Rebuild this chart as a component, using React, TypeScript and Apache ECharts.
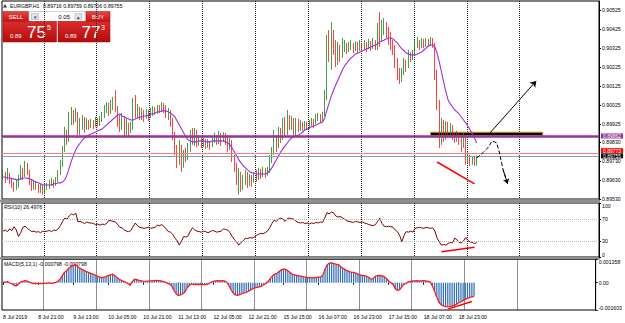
import React, { useEffect, useRef } from 'react';
import * as echarts from 'echarts';

// ---------- time axis ----------
const timeLabels = ['8 Jul 2019', '8 Jul 21:00', '9 Jul 13:00', '10 Jul 05:00', '10 Jul 21:00', '11 Jul 13:00', '12 Jul 05:00', '12 Jul 21:00', '15 Jul 15:00', '16 Jul 07:00', '16 Jul 23:00', '17 Jul 15:00', '18 Jul 07:00', '18 Jul 23:00'];
const labelEvery = 16;
const slotCount = 271;
const firstDayLine = 19;
const barsPerDay = 24;
const dayLineCount = 10;

// ---------- prices (in 0.00001 points) ----------
const firstOpen = 89641;
const closes = [89652,89641,89662,89631,89604,89583,89599,89641,89683,89657,
 89710,89673,89620,89589,89615,89599,89578,89594,89573,89589,
 89599,89610,89620,89604,89625,89662,89710,89789,89867,89841,
 89946,89989,89957,89983,89878,89920,89946,89904,89925,89915,
 89936,89920,89941,89931,89952,89967,89999,90020,89989,90020,
 90041,89999,89946,89904,89957,89883,89920,89894,89910,90025,
 89989,90010,89973,89989,89962,89983,89967,89989,89999,89989,
 90010,90004,90020,90010,89973,89989,89936,89867,89789,89736,
 89799,89710,89762,89746,89799,89867,89841,89878,89831,89841,
 89820,89836,89815,89825,89810,89841,89857,89831,89862,89841,
 89867,89852,89799,89831,89746,89694,89631,89657,89604,89631,
 89652,89615,89641,89625,89652,89641,89673,89657,89683,89662,
 89678,89736,89789,89841,89815,89883,89852,89920,89883,89957,
 89920,89946,89904,89936,89915,89931,89910,89925,89915,89931,
 89941,89925,89957,89967,89952,89978,90078,90341,90289,90394,
 90341,90262,90315,90289,90325,90341,90315,90331,90346,90325,
 90336,90320,90341,90325,90346,90331,90352,90336,90357,90341,
 90420,90367,90431,90446,90394,90378,90341,90325,90252,90183,
 90157,90199,90246,90231,90289,90273,90294,90341,90357,90336,
 90357,90341,90362,90346,90367,90346,90183,90025,89841,89904,
 89867,89920,89894,89915,89867,89852,89873,89841,89810,89852,
 89736,89746,89725,89736,89716,89755];
const highs = [89683,89673,89694,89667,89641,89620,89631,89657,89710,89694,
 89731,89720,89683,89631,89631,89625,89610,89610,89604,89610,
 89615,89631,89641,89631,89646,89683,89736,89810,89910,89894,
 89989,90015,89999,90010,89989,89957,89973,89962,89957,89946,
 89952,89946,89962,89957,89967,89989,90025,90041,90036,90052,
 90067,90104,90020,89973,89983,89967,89952,89931,89936,90062,
 90078,90031,90015,90010,89999,90004,89999,90010,90020,90015,
 90025,90025,90041,90036,90025,90010,89999,89957,89883,89815,
 89841,89815,89789,89799,89825,89894,89904,89904,89894,89867,
 89852,89852,89846,89846,89836,89862,89878,89867,89889,89878,
 89883,89878,89867,89852,89841,89762,89720,89694,89673,89657,
 89683,89673,89662,89657,89673,89683,89694,89689,89699,89694,
 89699,89762,89804,89894,89867,89910,89904,89957,89962,89999,
 89973,89967,89957,89957,89952,89946,89936,89941,89936,89946,
 89957,89952,89978,89983,89978,89989,90104,90394,90420,90462,
 90420,90367,90357,90341,90378,90367,90352,90357,90367,90352,
 90362,90357,90367,90352,90367,90357,90373,90362,90378,90367,
 90457,90515,90473,90483,90462,90436,90410,90367,90341,90273,
 90220,90220,90273,90262,90315,90304,90315,90367,90383,90367,
 90378,90373,90378,90373,90383,90378,90352,90210,90052,89957,
 89946,89941,89936,89931,89920,89883,89889,89878,89867,89878,
 89862,89778,89762,89757,89752,89759];
const lows = [89631,89615,89631,89610,89589,89568,89578,89589,89631,89631,
 89646,89657,89604,89573,89578,89578,89562,89562,89552,89562,
 89578,89583,89599,89589,89599,89620,89657,89699,89778,89815,
 89831,89920,89920,89936,89852,89867,89894,89878,89894,89894,
 89904,89899,89910,89910,89915,89936,89957,89983,89967,89978,
 89999,89989,89910,89883,89894,89852,89867,89857,89878,89894,
 89957,89957,89946,89946,89936,89952,89941,89957,89967,89973,
 89978,89983,89989,89983,89957,89946,89910,89841,89762,89694,
 89710,89673,89694,89725,89736,89778,89815,89810,89804,89810,
 89799,89804,89794,89799,89789,89804,89825,89815,89820,89810,
 89831,89815,89778,89789,89725,89673,89604,89552,89568,89578,
 89604,89589,89599,89594,89615,89620,89631,89636,89646,89641,
 89652,89667,89720,89762,89778,89799,89825,89841,89857,89867,
 89894,89894,89867,89857,89883,89889,89889,89894,89894,89899,
 89915,89904,89925,89941,89931,89936,89967,90052,90252,90210,
 90289,90225,90236,90252,90273,90304,90294,90304,90315,90299,
 90310,90299,90310,90304,90315,90304,90320,90310,90320,90315,
 90315,90331,90357,90394,90378,90341,90315,90289,90220,90157,
 90136,90146,90183,90199,90220,90252,90262,90283,90325,90315,
 90325,90325,90331,90331,90336,90325,90157,89999,89799,89815,
 89831,89841,89852,89852,89841,89825,89831,89815,89778,89799,
 89710,89720,89704,89710,89704,89706];
const maValues = [89646,89646,89641,89641,89636,89636,89631,89631,89636,89641,
 89641,89641,89636,89631,89625,89620,89615,89610,89604,89604,
 89604,89604,89604,89610,89610,89615,89615,89620,89631,89657,
 89694,89731,89762,89789,89810,89825,89841,89852,89862,89867,
 89873,89878,89883,89889,89894,89899,89910,89920,89931,89941,
 89952,89962,89973,89978,89967,89962,89957,89952,89946,89946,
 89952,89957,89962,89962,89967,89967,89973,89978,89978,89983,
 89989,89989,89994,89994,89994,89989,89983,89973,89962,89941,
 89920,89899,89878,89857,89841,89836,89831,89831,89831,89836,
 89836,89836,89831,89831,89831,89836,89836,89836,89836,89836,
 89836,89831,89825,89815,89799,89778,89757,89736,89720,89704,
 89694,89683,89673,89667,89667,89662,89662,89662,89662,89662,
 89667,89678,89694,89715,89736,89757,89778,89794,89810,89825,
 89841,89852,89857,89862,89867,89873,89883,89894,89899,89904,
 89910,89915,89920,89925,89931,89936,89957,89999,90036,90073,
 90104,90131,90157,90183,90210,90231,90246,90262,90273,90283,
 90294,90299,90304,90310,90315,90320,90325,90331,90336,90341,
 90346,90357,90362,90367,90373,90378,90378,90373,90362,90352,
 90336,90320,90310,90299,90294,90289,90289,90289,90294,90299,
 90304,90315,90325,90336,90341,90341,90331,90299,90252,90199,
 90146,90094,90052,90031,90015,89999,89989,89978,89962,89946,
 89931,89915,89894,89873,89852,89825];

// ---------- indicators ----------
const rsiValues = [48,50,47,52,49,56,50,38,45,55,
 57,53,50,47,48,46,47,45,48,47,
 48,49,47,50,49,52,58,66,72,70,
 76,80,78,81,65,66,64,62,65,63,
 63,62,60,61,59,61,60,62,68,67,
 66,65,60,55,54,50,48,47,49,56,
 63,58,55,54,53,54,55,53,54,55,
 59,58,60,57,52,47,46,42,35,30,
 22,30,38,37,39,48,54,50,48,47,
 46,48,47,45,47,49,48,46,47,48,
 52,51,50,45,38,32,28,22,27,30,
 35,34,36,35,37,40,42,44,43,45,
 48,54,62,68,66,70,72,70,66,71,
 72,71,70,66,64,63,64,62,63,61,
 63,62,64,63,65,64,72,82,80,83,
 82,76,74,75,73,70,67,66,65,64,
 66,65,64,65,63,62,60,59,58,60,
 66,72,62,57,56,57,56,55,50,47,
 40,28,40,47,46,48,46,53,54,55,
 54,53,55,54,53,54,48,35,28,22,
 23,22,25,27,26,35,32,27,26,30,
 36,31,28,27,25,26.4976];
// MACD main value in 0.000001 units
const macdValues = [50,20,60,-20,-60,-150,-200,-80,40,80,
 120,90,30,-20,-50,-40,-60,-50,-60,-40,
 -30,-20,-40,-20,10,80,200,400,600,700,
 850,950,1000,1060,950,850,780,720,650,600,
 550,500,450,380,320,300,320,350,420,450,
 500,420,300,200,130,80,20,-50,-150,60,
 200,180,130,110,90,80,90,100,110,120,
 130,120,110,80,30,-30,-80,-200,-450,-650,
 -750,-720,-650,-550,-300,-150,-80,-100,-120,-110,
 -100,-110,-120,-100,-60,20,80,100,120,100,
 120,100,40,-150,-400,-600,-720,-750,-700,-650,
 -600,-580,-500,-420,-350,-300,-280,-250,-200,-120,
 -50,80,250,400,500,550,650,750,800,780,
 700,600,500,450,420,400,380,350,320,300,
 290,280,300,310,320,330,450,800,1050,1150,
 1160,1120,1080,1060,950,850,780,700,650,620,
 600,560,500,450,420,400,380,300,200,250,
 380,420,420,400,350,250,100,0,-100,-350,
 -450,-420,-250,-100,-50,50,80,100,110,120,
 100,110,120,100,80,30,-200,-500,-850,-1150,
 -1300,-1360,-1400,-1420,-1410,-1380,-1330,-1260,-1180,-1120,
 -1040,-980,-920,-870,-830,-798];

// ---------- axis ticks ----------
const priceTicks = [0.90525, 0.90425, 0.90325, 0.90225, 0.90125, 0.90025, 0.89925, 0.8983, 0.8973, 0.8963, 0.8953];
const priceMin = 0.8953;
const priceMax = 0.90573;
const rsiTicks = [0, 30, 70, 100];
const rsiLevels = [70, 30];
const macdTicks = [-0.001603, 0, 0.001358];

// ---------- levels & drawings ----------
const levelPrice = 0.89862;
const askPrice = 0.89773;
const bidPrice = 0.89755;
const zoneBars = [194, 245];
const zonePrices = [0.89882, 0.89864];
const arrowBars = [221, 242];
const arrowPrices = [0.89878, 0.90152];
const dashBars = [215, 218, 220, 222, 224, 225, 226, 227, 229];
const dashPrices = [0.89746, 0.89776, 0.89799, 0.89836, 0.89826, 0.89789, 0.89736, 0.89683, 0.8961];
const priceDivBars = [197, 214];
const priceDivValues = [0.89725, 0.8961];
const rsiDivBars = [199, 214];
const rsiDivValues = [9.8, 18];
const macdDivBars = [203, 214];
const macdDivValues = [-0.00155, -0.0011];

const FONT = '"Liberation Sans", Arial, sans-serif';

export default function App() {
  const ref = useRef<HTMLDivElement>(null);
  useEffect(() => {
    const chart = echarts.init(ref.current!, null, { renderer: 'svg' });
    const cats = Array.from({ length: slotCount }, (_, i) => String(i));
    const candles = closes.map((c, i) => [
      (i === 0 ? firstOpen : closes[i - 1]) / 1e5, c / 1e5, lows[i] / 1e5, highs[i] / 1e5,
    ]);
    const last = closes.length - 1;
    const lastOpen = (last === 0 ? firstOpen : closes[last - 1]) / 1e5;
    const header = [lastOpen, highs[last] / 1e5, lows[last] / 1e5, closes[last] / 1e5].map((v) => v.toFixed(5)).join(' ');
    const macdMain = macdValues.map((v) => v / 1e6);
    const rsiText = `RSI(10) ${rsiValues[last].toFixed(4)}`;
    const macdText = `MACD(5,13,1) ${macdMain[last].toFixed(6)} ${macdMain[last].toFixed(6)}`;
    const bidStr = bidPrice.toFixed(5);
    const askStr = askPrice.toFixed(5);

    const labelInterval = (i: number) => i % labelEvery === 0 && i / labelEvery < timeLabels.length;
    const gridInterval = (i: number) =>
      i >= firstDayLine && (i - firstDayLine) % barsPerDay === 0 && (i - firstDayLine) / barsPerDay < dayLineCount;

    const mkX = (gi: number, showLabels: boolean) => ({
      type: 'category', gridIndex: gi, data: cats, boundaryGap: true,
      axisLine: { show: false },
      axisTick: { show: showLabels, interval: labelInterval, length: 2, alignWithLabel: true, lineStyle: { color: '#000' } },
      axisLabel: {
        show: showLabels, interval: labelInterval, align: 'left', fontSize: 5.2, color: '#000', margin: 4, fontFamily: FONT,
        formatter: (_v: string, idx: number) => timeLabels[idx / labelEvery] ?? '',
      },
      splitLine: { show: true, interval: gridInterval, lineStyle: { type: 'dotted', color: '#222', width: 1 } },
    });

    const yCommon = {
      type: 'value', position: 'right',
      axisLine: { show: true, lineStyle: { color: '#000', width: 1 } },
      splitLine: { show: false },
    };

    const redGrad = (a: string, b: string) => ({
      type: 'linear', x: 0, y: 0, x2: 0, y2: 1,
      colorStops: [{ offset: 0, color: a }, { offset: 1, color: b }],
    });

    const txt = (text: string, x: number, y: number, size: number, fill: string, align = 'left', weight = 'normal') => ({
      type: 'text', x, y, silent: true,
      style: { text, fontSize: size, fill, align, verticalAlign: 'middle', fontFamily: FONT, fontWeight: weight },
    });

    const priceLabel = (text: string, bg: string, dy: number) => ({
      show: true, position: 'end', formatter: text, color: '#fff', backgroundColor: bg,
      fontSize: 5, lineHeight: 4.6, padding: [0.4, 2, 0, 2], distance: 2, fontFamily: FONT, offset: [0, dy],
    });

    const option: any = {
      animation: false,
      backgroundColor: '#fff',
      textStyle: { fontFamily: FONT },
      grid: [
        { left: 2, top: 1, width: 597, height: 198, show: true, borderColor: '#000', borderWidth: 1, backgroundColor: 'transparent' },
        { left: 2, top: 203, width: 597, height: 54, show: true, borderColor: '#000', borderWidth: 1, backgroundColor: 'transparent' },
        { left: 2, top: 259.5, width: 597, height: 50.5, show: true, borderColor: '#000', borderWidth: 1, backgroundColor: 'transparent' },
      ],
      xAxis: [mkX(0, false), mkX(1, false), mkX(2, true)],
      yAxis: [
        {
          ...yCommon, gridIndex: 0, min: priceMin, max: priceMax,
          axisTick: { show: true, length: 2, customValues: priceTicks, lineStyle: { color: '#000' } },
          axisLabel: { customValues: priceTicks, formatter: (v: number) => v.toFixed(5), fontSize: 5.2, lineHeight: 5, margin: 3, color: '#000', fontFamily: FONT },
        },
        {
          ...yCommon, gridIndex: 1, min: 0, max: 100,
          axisTick: { show: true, length: 2, customValues: rsiTicks, lineStyle: { color: '#000' } },
          axisLabel: {
            customValues: rsiTicks, formatter: (v: number) => String(v), fontSize: 5.2, margin: 3, color: '#000', fontFamily: FONT,
            verticalAlignMaxLabel: 'top', verticalAlignMinLabel: 'bottom',
          },
        },
        {
          ...yCommon, gridIndex: 2, min: macdTicks[0], max: macdTicks[2],
          axisTick: { show: true, length: 2, customValues: macdTicks, lineStyle: { color: '#000' } },
          axisLabel: {
            customValues: macdTicks, formatter: (v: number) => (v === 0 ? '0.00' : v.toFixed(6)), fontSize: 5.2, margin: 3, color: '#000', fontFamily: FONT,
            verticalAlignMaxLabel: 'top', verticalAlignMinLabel: 'bottom',
          },
        },
      ],
      series: [
        {
          type: 'candlestick', xAxisIndex: 0, yAxisIndex: 0, data: candles, barWidth: 1.3,
          itemStyle: { color: '#13861a', color0: '#ff1010', borderColor: '#13861a', borderColor0: '#ff1010', borderWidth: 0.8 },
          z: 3,
        },
        {
          type: 'line', xAxisIndex: 0, yAxisIndex: 0, data: maValues.map((v) => v / 1e5),
          symbol: 'none', lineStyle: { color: '#9a2fd6', width: 1.1 }, z: 4, silent: true,
          markArea: {
            silent: true,
            itemStyle: { color: '#000', borderColor: '#d0a020', borderWidth: 1 },
            data: [[{ coord: [zoneBars[0], zonePrices[0]] }, { coord: [zoneBars[1], zonePrices[1]] }]],
          },
          markLine: {
            silent: true, symbol: ['none', 'none'], animation: false, precision: 6,
            data: [
              { yAxis: levelPrice, lineStyle: { color: '#993399', width: 2.5, type: 'solid' }, label: priceLabel(levelPrice.toFixed(5), '#993399', 0) },
              { yAxis: askPrice, lineStyle: { color: '#ff7a7a', width: 1.2, type: 'solid' }, label: priceLabel(askStr, '#ff0000', -2.2) },
              { yAxis: bidPrice, lineStyle: { color: '#8e9aab', width: 1, type: 'solid' }, label: priceLabel(bidStr, '#000', -0.4) },
              [
                { coord: [arrowBars[0], arrowPrices[0]], symbol: 'none', lineStyle: { color: '#000', width: 1, type: 'solid' }, label: { show: false } },
                { coord: [arrowBars[1], arrowPrices[1]], symbol: 'arrow', symbolSize: 6 },
              ],
              [
                { coord: [priceDivBars[0], priceDivValues[0]], symbol: 'none', lineStyle: { color: '#ff0000', width: 1.5, type: 'solid' }, label: { show: false } },
                { coord: [priceDivBars[1], priceDivValues[1]], symbol: 'none' },
              ],
              [
                { coord: [dashBars[dashBars.length - 2], dashPrices[dashPrices.length - 2]], symbol: 'none', lineStyle: { color: '#000', width: 1, type: 'solid' }, label: { show: false } },
                { coord: [dashBars[dashBars.length - 1], dashPrices[dashPrices.length - 1]], symbol: 'arrow', symbolSize: 5 },
              ],
            ],
          },
        },
        {
          type: 'line', xAxisIndex: 0, yAxisIndex: 0, data: dashBars.map((b, i) => [b, dashPrices[i]]),
          symbol: 'none', lineStyle: { color: '#000', width: 1, type: 'dashed' }, z: 5, silent: true,
        },
        {
          type: 'line', xAxisIndex: 1, yAxisIndex: 1, data: rsiValues,
          symbol: 'none', lineStyle: { color: '#7a0000', width: 1 }, silent: true,
          markLine: {
            silent: true, symbol: ['none', 'none'], precision: 4,
            data: [
              ...rsiLevels.map((v) => ({ yAxis: v, lineStyle: { color: '#b8b8b8', type: 'dotted', width: 1 }, label: { show: false } })),
              [
                { coord: [rsiDivBars[0], rsiDivValues[0]], lineStyle: { color: '#ff0000', width: 1.5, type: 'solid' }, label: { show: false } },
                { coord: [rsiDivBars[1], rsiDivValues[1]] },
              ],
            ],
          },
        },
        {
          type: 'bar', xAxisIndex: 2, yAxisIndex: 2, data: macdMain, barWidth: 1.2,
          itemStyle: { color: '#2f6db5' }, silent: true,
        },
        {
          type: 'line', xAxisIndex: 2, yAxisIndex: 2, data: macdMain,
          symbol: 'none', lineStyle: { color: '#ff1a1a', width: 1.3 }, silent: true,
          markLine: {
            silent: true, symbol: ['none', 'none'], precision: 8,
            data: [[
              { coord: [macdDivBars[0], macdDivValues[0]], lineStyle: { color: '#ff0000', width: 1.5, type: 'solid' }, label: { show: false } },
              { coord: [macdDivBars[1], macdDivValues[1]] },
            ]],
          },
        },
      ],
      graphic: [
        { type: 'rect', shape: { x: 0, y: 199.5, width: 600, height: 3 }, style: { fill: '#8f8f8f' }, silent: true },
        { type: 'rect', shape: { x: 0, y: 257, width: 600, height: 2.5 }, style: { fill: '#8f8f8f' }, silent: true },
        { type: 'polygon', shape: { points: [[3, 7.5], [5, 4], [7, 7.5]] }, style: { fill: '#333' }, silent: true },
        txt('EURGBP,H1', 10, 6, 5.2, '#000'),
        txt(header, 43, 6, 5.2, '#000'),
        { type: 'rect', shape: { x: 3, y: 11.5, width: 25.5, height: 10 }, style: { fill: redGrad('#e84444', '#c41414'), stroke: '#a80000', lineWidth: 0.5 }, silent: true },
        txt('SELL', 15.8, 16.7, 6, '#fff', 'center'),
        { type: 'rect', shape: { x: 29, y: 11.5, width: 56, height: 10 }, style: { fill: '#fff', stroke: '#a0a0a0', lineWidth: 0.5 }, silent: true },
        { type: 'rect', shape: { x: 31.5, y: 13.5, width: 7, height: 6 }, style: { fill: '#dde4ee', stroke: '#9aa4b4', lineWidth: 0.5 }, silent: true },
        txt('▾', 35, 16.5, 5, '#334', 'center'),
        txt('0.05', 70, 16.7, 6, '#000', 'right'),
        { type: 'rect', shape: { x: 75, y: 13.5, width: 7, height: 6 }, style: { fill: '#dde4ee', stroke: '#9aa4b4', lineWidth: 0.5 }, silent: true },
        txt('▴', 78.5, 16.5, 5, '#334', 'center'),
        { type: 'rect', shape: { x: 86, y: 11.5, width: 24, height: 10 }, style: { fill: redGrad('#e84444', '#c41414'), stroke: '#a80000', lineWidth: 0.5 }, silent: true },
        txt('BUY', 98, 16.7, 6, '#fff', 'center'),
        { type: 'rect', shape: { x: 3, y: 21.5, width: 53.5, height: 20.5 }, style: { fill: redGrad('#dc2c2c', '#b40c0c'), stroke: '#a00000', lineWidth: 0.5 }, silent: true },
        { type: 'rect', shape: { x: 58, y: 21.5, width: 52, height: 20.5 }, style: { fill: redGrad('#dc2c2c', '#b40c0c'), stroke: '#a00000', lineWidth: 0.5 }, silent: true },
        txt(bidStr.slice(0, 4), 10, 35.5, 6, '#fff'),
        txt(bidStr.slice(4, 6), 27, 32.5, 17, '#fff'),
        txt(bidStr.slice(6), 47, 27.5, 7, '#fff'),
        txt(askStr.slice(0, 4), 65, 35.5, 6, '#fff'),
        txt(askStr.slice(4, 6), 81.5, 32.5, 17, '#fff'),
        txt(askStr.slice(6), 101, 27.5, 7, '#fff'),
        txt(rsiText, 4, 207, 5.2, '#000'),
        txt(macdText, 4, 263.5, 5.2, '#000'),
      ],
    };
    chart.setOption(option);
    return () => chart.dispose();
  }, []);
  return <div ref={ref} style={{ position: 'absolute', left: 0, top: 0, width: 625, height: 323 }} />;
}
